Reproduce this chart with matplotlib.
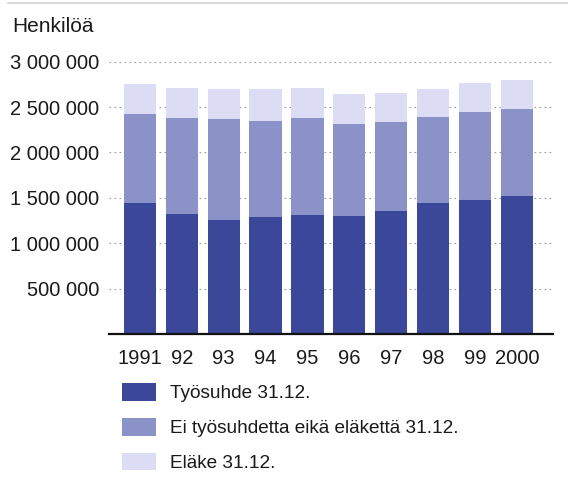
#!/usr/bin/env python3
"""Stacked bars: persons by employment status at year end, 1991-2000."""

import numpy as np
import matplotlib
matplotlib.use("Agg")
import matplotlib.pyplot as plt
from matplotlib.lines import Line2D

#--- Data ---
years = ["1991", "92", "93", "94", "95", "96", "97", "98", "99", "2000"]
tyosuhde = [1443000, 1325000, 1255000, 1289000, 1311000, 1300000, 1358000, 1443000, 1472000, 1520000]
ei_kumpaakaan = [980000, 1050000, 1109000, 1060000, 1071000, 1016000, 977000, 944000, 970000, 958000]
elake = [330000, 334000, 334000, 346000, 331000, 330000, 322000, 314000, 319000, 316000]
labels = ["Työsuhde 31.12.", "Ei työsuhdetta eikä eläkettä 31.12.", "Eläke 31.12."]
yticks = [500000, 1000000, 1500000, 2000000, 2500000, 3000000]
ytick_labels = ["500 000", "1 000 000", "1 500 000", "2 000 000", "2 500 000", "3 000 000"]

colors = ["#3b4899", "#8a92c8", "#dcdcf5"]

plt.rcParams["font.family"] = ["Liberation Sans", "DejaVu Sans"]
fs = 14.5

fig = plt.figure(figsize=(5.68, 4.79), dpi=100)
ax = fig.add_axes([0.1925, 0.3027, 0.781, 0.5685])

x = np.arange(len(years))
w = 0.77
b1 = ax.bar(x, tyosuhde, w, color=colors[0], zorder=2)
bottom2 = np.array(tyosuhde)
b2 = ax.bar(x, ei_kumpaakaan, w, bottom=bottom2, color=colors[1], zorder=2)
bottom3 = bottom2 + np.array(ei_kumpaakaan)
b3 = ax.bar(x, elake, w, bottom=bottom3, color=colors[2], zorder=2)

ax.set_xlim(-0.73, 9.86)
ax.set_ylim(0, 3000000)
ax.set_yticks(yticks)
ax.set_yticklabels(ytick_labels)
ax.set_xticks(x)
ax.set_xticklabels(years)
ax.tick_params(axis="both", length=0, labelsize=fs, colors="#1a1a1a")
ax.tick_params(axis="y", pad=7.5)
ax.tick_params(axis="x", pad=11)

ax.yaxis.grid(True, linestyle=(0, (1.5, 3)), color="#9a9a9a", linewidth=0.8, zorder=0)
for s in ["top", "right", "left"]:
    ax.spines[s].set_visible(False)
ax.spines["bottom"].set_linewidth(1.6)
ax.spines["bottom"].set_color("#111111")
ax.spines["bottom"].set_zorder(3)

fig.text(12 / 568, 1 - 27 / 479, "Henkilöä", fontsize=fs + 0.5, va="center", ha="left", color="#1a1a1a")

# thin rule at the very top
fig.add_artist(Line2D([8 / 568, 1.0], [1 - 3 / 479, 1 - 3 / 479], color="#cfcfcf", linewidth=1.2))

lfs = 13.7
fig.legend([b1, b2, b3], labels, loc="upper left",
           bbox_to_anchor=(122 / 568, 1 - 383 / 479), frameon=False,
           fontsize=lfs, handlelength=1.8, handleheight=1.05,
           handletextpad=0.7, labelspacing=0.82, borderpad=0, borderaxespad=0,
           labelcolor="#1a1a1a")

fig.savefig("out.png", dpi=100)
